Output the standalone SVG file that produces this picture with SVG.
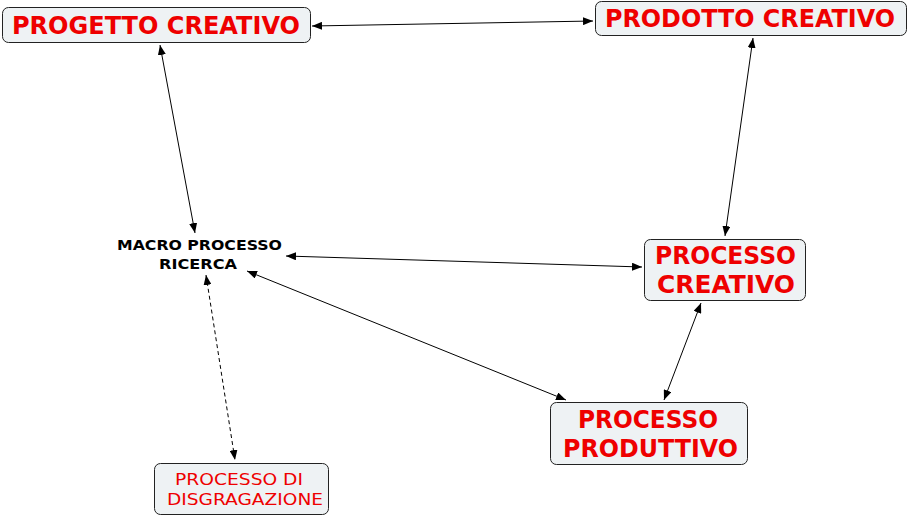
<svg xmlns="http://www.w3.org/2000/svg" width="910" height="517" viewBox="0 0 910 517">
<style>
.box{fill:#eef2f4;stroke:#222;stroke-width:1}
.big{font-family:"DejaVu Sans",Verdana,sans-serif;font-weight:bold;font-size:24px;fill:#ee0000;text-anchor:middle}
.small{font-family:"DejaVu Sans",Verdana,sans-serif;font-weight:bold;font-size:14px;fill:#000;text-anchor:middle}
.norm{font-family:"DejaVu Sans",Verdana,sans-serif;font-size:16px;fill:#ee0000;text-anchor:middle}
.c{stroke:#000;stroke-width:1;fill:none;marker-start:url(#a);marker-end:url(#a)}
</style>
<defs>
<marker id="a" viewBox="0 0 10 8" refX="10" refY="4" markerWidth="10" markerHeight="8" markerUnits="userSpaceOnUse" orient="auto-start-reverse">
<path d="M0,0 L10,4 L0,8 Z" fill="#000"/>
</marker>
</defs>
<rect width="910" height="517" fill="#fff"/>
<g id="connectors">
<line class="c" x1="312" y1="26" x2="593" y2="21"/>
<line class="c" x1="160" y1="45" x2="195" y2="233"/>
<line class="c" x1="753" y1="38" x2="725" y2="236"/>
<line class="c" x1="286" y1="256" x2="642" y2="267"/>
<line class="c" x1="247" y1="271" x2="566" y2="400"/>
<line class="c" x1="701" y1="303" x2="664" y2="400"/>
<line class="c" x1="206" y1="275" x2="235" y2="460" stroke-dasharray="4,3"/>
</g>
<g id="progetto">
<rect class="box" x="2.5" y="7.5" width="308" height="35" rx="6"/>
<text class="big" x="156" y="34" textLength="288" lengthAdjust="spacingAndGlyphs">PROGETTO CREATIVO</text>
</g>
<g id="prodotto">
<rect class="box" x="595.5" y="1.5" width="311" height="34" rx="6"/>
<text class="big" x="750" y="27" textLength="290" lengthAdjust="spacingAndGlyphs">PRODOTTO CREATIVO</text>
</g>
<g id="macro">
<text class="small" x="199.5" y="250" textLength="165" lengthAdjust="spacingAndGlyphs">MACRO PROCESSO</text>
<text class="small" x="198" y="269" textLength="78" lengthAdjust="spacingAndGlyphs">RICERCA</text>
</g>
<g id="creativo">
<rect class="box" x="644.5" y="239.5" width="161" height="61" rx="6"/>
<text class="big" x="725.5" y="264" textLength="141" lengthAdjust="spacingAndGlyphs">PROCESSO</text>
<text class="big" x="726" y="293" textLength="138" lengthAdjust="spacingAndGlyphs">CREATIVO</text>
</g>
<g id="produttivo">
<rect class="box" x="550.5" y="402.5" width="197" height="62" rx="6"/>
<text class="big" x="648" y="428" textLength="140" lengthAdjust="spacingAndGlyphs">PROCESSO</text>
<text class="big" x="650.5" y="457" textLength="175" lengthAdjust="spacingAndGlyphs">PRODUTTIVO</text>
</g>
<g id="disgragazione">
<rect class="box" x="154.5" y="463.5" width="174" height="51" rx="6"/>
<text class="norm" x="239" y="485" textLength="128" lengthAdjust="spacingAndGlyphs">PROCESSO DI</text>
<text class="norm" x="245" y="505" textLength="156" lengthAdjust="spacingAndGlyphs">DISGRAGAZIONE</text>
</g>
</svg>
